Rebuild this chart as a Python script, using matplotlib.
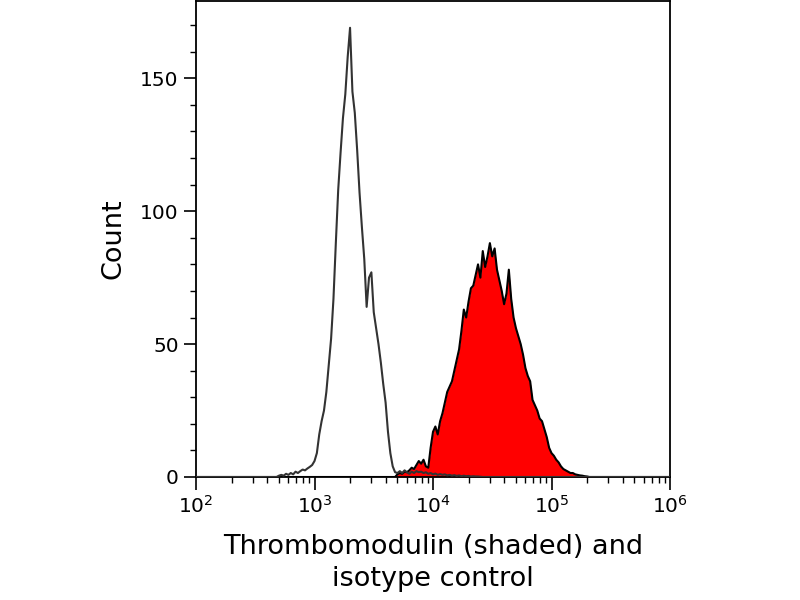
import numpy as np
import matplotlib
matplotlib.use("Agg")
import matplotlib.pyplot as plt
from matplotlib.ticker import MultipleLocator, LogLocator, NullFormatter

# ---- data (histogram counts per 0.02-decade bin) ----
bin_step = 0.02
x_min_log, x_max_log = 2.0, 6.0

iso_start = 2.70
iso_counts = [
    0.5, 0.8, 0.5, 1.2, 0.8, 1.5, 1.0, 2.0, 1.5, 2.2,
    2.8, 2.5, 3.2, 3.8, 4.5, 6.0, 9.0, 16, 21, 25,
    32, 42, 52, 67, 88, 108, 122, 135, 144, 158,
    169, 145, 137, 123, 107, 94, 82, 64, 75, 77,
    62, 56, 50, 43, 35, 28, 17, 9, 4, 1.8,
    1.5, 2.2, 1.5, 2.5, 1.8, 1.2,
    2.0, 1.5, 2.2, 1.8, 2.0, 1.5, 1.8, 1.2, 1.5, 1.0,
    1.3, 0.8, 1.1, 0.8, 1.0, 0.6, 0.8, 0.5, 0.7, 0.4,
    0.6, 0.3, 0.5, 0.3, 0.4, 0.2, 0.3, 0.2, 0.2, 0.1,
]

tm_start = 3.70
tm_counts = [
    1.0, 1.5, 1.2, 2.0, 1.8, 2.5, 3.5, 3.0, 4.5, 6.0,
    5.0, 6.5, 4.0, 3.5, 11, 17, 19, 16, 21, 24,
    28, 32, 34, 36, 40, 44, 48, 55, 63, 60,
    66, 71, 72, 76, 80, 75, 85, 79, 83, 88,
    83, 86, 78, 74, 70, 65, 69, 78, 67, 60,
    56, 53, 50, 46, 41, 38, 36, 29, 27, 25,
    22, 21, 18, 15, 11, 9, 8, 6.5, 5.5, 4.0,
    3.0, 2.5, 2.0, 1.5, 1.5, 1.0, 0.8, 0.6, 0.5, 0.3,
    0.2,
]

y_ticks = [0, 50, 100, 150]
x_label = "Thrombomodulin (shaded) and\nisotype control"
y_label = "Count"

# ---- build full bin grid ----
n_bins = int(round((x_max_log - x_min_log) / bin_step)) + 1
log_centers = x_min_log + bin_step * np.arange(n_bins)
x_vals = 10 ** log_centers

def place(start, counts):
    arr = np.zeros(n_bins)
    i0 = int(round((start - x_min_log) / bin_step))
    arr[i0:i0 + len(counts)] = counts
    return arr

iso = place(iso_start, iso_counts)
tm = place(tm_start, tm_counts)

# ---- plot ----
plt.rcParams['font.family'] = ['DejaVu Sans']
plt.rcParams['mathtext.fontset'] = 'dejavusans'

fig = plt.figure(figsize=(8, 6), dpi=100)
ax = fig.add_axes([0.245, 0.205, 0.5925, 0.793])

ax.fill_between(x_vals, 0, tm, color='#ff0000', linewidth=0, zorder=2)
ax.plot(x_vals, tm, color='black', linewidth=1.5, zorder=3)
ax.plot(x_vals, iso, color='#333333', linewidth=1.5, zorder=4)

ax.set_xscale('log')
ax.set_xlim(10 ** x_min_log, 10 ** x_max_log)
ax.set_ylim(0, 179)

ax.set_yticks(y_ticks)
ax.yaxis.set_minor_locator(MultipleLocator(10))
ax.xaxis.set_major_locator(LogLocator(base=10, numticks=10))
ax.xaxis.set_minor_locator(LogLocator(base=10, subs=np.arange(2, 10), numticks=20))
ax.xaxis.set_minor_formatter(NullFormatter())

ax.tick_params(axis='both', which='major', direction='out', length=9, width=1.2,
               labelsize=14.5, colors='black')
ax.tick_params(axis='both', which='minor', direction='out', length=4.5, width=1.0)
ax.tick_params(axis='x', which='major', pad=4)

for s in ax.spines.values():
    s.set_linewidth(1.3)
    s.set_color('black')

ax.set_xlabel(x_label, fontsize=19.5, labelpad=12, linespacing=1.3)
ax.set_ylabel(y_label, fontsize=19.5, labelpad=10)

fig.savefig("out.png", dpi=100)
